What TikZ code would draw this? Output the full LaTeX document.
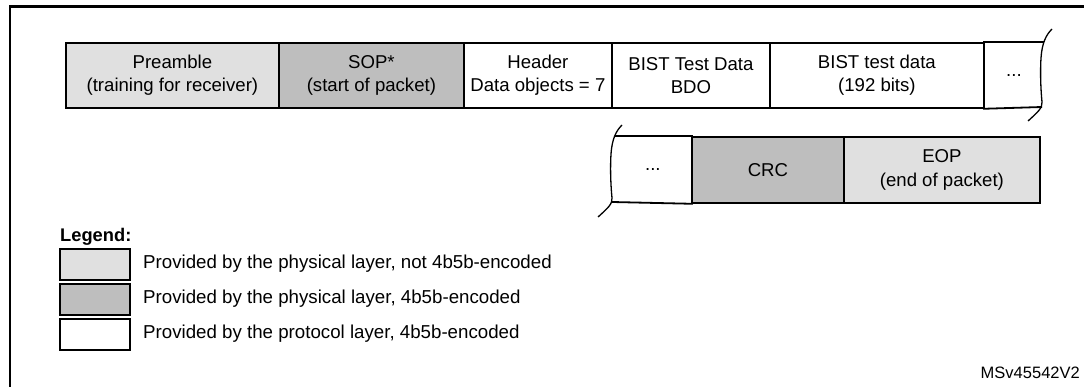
\documentclass[tikz,border=0pt]{standalone}
\usepackage{fontspec}
\setmainfont{Liberation Sans}
\definecolor{lightg}{RGB}{224,224,224}
\definecolor{darkg}{RGB}{190,190,190}
\begin{document}
\begin{tikzpicture}[x=1pt,y=-1pt,
  cellbox/.style={draw, line width=1.8pt, inner sep=0pt, anchor=north west, align=center,
    font=\fontsize{18.6}{23.5}\selectfont},
  rowline/.style={line width=1.8pt},
  wavy/.style={line width=1.3pt},
  legbox/.style={draw, line width=1.8pt, inner sep=0pt, anchor=north west,
    minimum width=70pt, minimum height=31pt},
  legtext/.style={anchor=west, inner sep=0pt, font=\fontsize{18.7}{22}\selectfont}]
\useasboundingbox (0,0) rectangle (1084,387);
% outer frame
\draw[line width=2.5pt] (10,390) -- (10,6.5) -- (1090,6.5);
% top row
\node[cellbox, fill=lightg, minimum width=213pt, minimum height=65pt] (pre) at (65,42) {Preamble\\(training for receiver)};
\node[cellbox, fill=darkg, minimum width=185pt, minimum height=65pt] (sop) at (278,42) {SOP*\\(start of packet)};
\node[cellbox, minimum width=148pt, minimum height=65pt] (hdr) at (463,42) {Header\\Data objects = 7};
\node[cellbox, minimum width=158pt, minimum height=65pt] (bdo) at (611,42) {BIST Test Data\\BDO};
\node[cellbox, minimum width=214pt, minimum height=65pt] (bist) at (769,42) {BIST test data\\(192 bits)};
\node[cellbox, draw=none, minimum width=60pt, minimum height=65pt] (dotsA) at (983,42) {...};
\draw[rowline] (dotsA.north west) -- (1043.5,42);
\draw[rowline] (dotsA.south west) -- (1042,107);
\draw[wavy] (1052,29) .. controls (1046,35) and (1042,43) .. (1041,58)
  .. controls (1040,75) and (1041,92) .. (1042,102)
  .. controls (1042.5,108) and (1038,112) .. (1028,121);
% second row
\node[cellbox, draw=none, minimum width=78pt, minimum height=66pt] (dotsB) at (613,136) {...};
\node[cellbox, fill=darkg, minimum width=152pt, minimum height=66pt] (crc) at (691,136) {CRC};
\node[cellbox, fill=lightg, minimum width=196pt, minimum height=66pt] (eop) at (843,136) {EOP\\(end of packet)};
\draw[rowline] (dotsB.north east) -- (614.5,136);
\draw[rowline] (dotsB.south east) -- (612,202);
\draw[wavy, shift={(-430,96)}] (1052,29) .. controls (1046,35) and (1042,43) .. (1041,58)
  .. controls (1040,75) and (1041,92) .. (1042,102)
  .. controls (1042.5,108) and (1038,112) .. (1028,121);
% legend
\node[anchor=west, inner sep=0pt, font=\fontsize{18.3}{22}\selectfont\bfseries] (leg) at (60,237) {Legend:};
\node[legbox, fill=lightg] (lb1) at (59,248) {};
\node[legbox, fill=darkg] (lb2) at (59,283) {};
\node[legbox] (lb3) at (59,318) {};
\node[legtext] (lt1) at (143,263.5) {Provided by the physical layer, not 4b5b-encoded};
\node[legtext] (lt2) at (143,298.5) {Provided by the physical layer, 4b5b-encoded};
\node[legtext] (lt3) at (143,333.5) {Provided by the protocol layer, 4b5b-encoded};
\node[anchor=east, inner sep=0pt, font=\fontsize{16.5}{18}\selectfont] (ref) at (1080,373) {MSv45542V2};
\end{tikzpicture}
\end{document}
